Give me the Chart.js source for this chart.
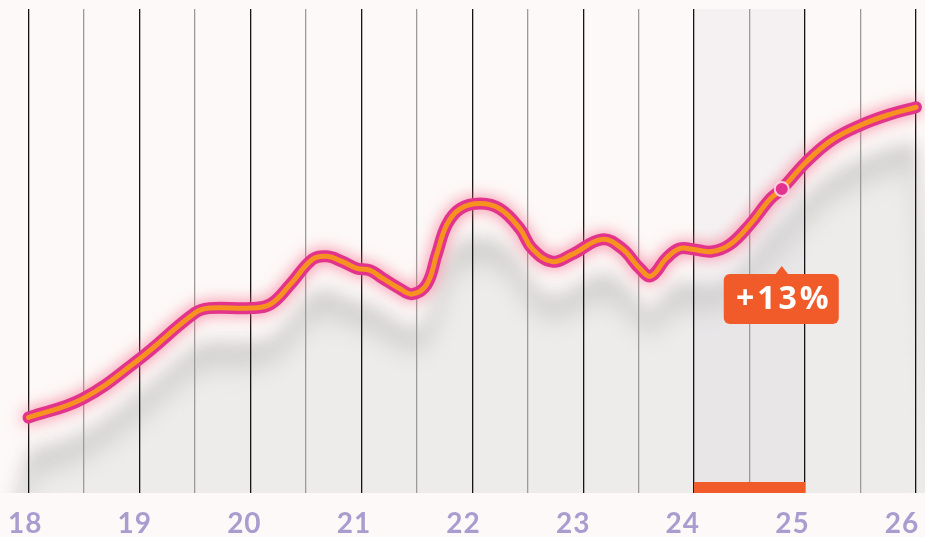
<!DOCTYPE html>
<html>
<head>
<meta charset="utf-8">
<script src="https://cdn.jsdelivr.net/npm/chart.js@4.4.1/dist/chart.umd.min.js"></script>
<style>
  html, body { margin: 0; padding: 0; background: #fdf9f8; }
  #wrap { width: 925px; height: 537px; position: relative; }
</style>
</head>
<body>
<div id="wrap"><canvas id="trend"></canvas></div>
<script>
// x positions (day) and index values
const xs = [18.00, 18.49, 19.00, 19.50, 19.63, 20.00, 20.18, 20.36, 20.56, 20.69,
            20.83, 20.96, 21.08, 21.19, 21.34, 21.46, 21.59, 21.68, 21.77, 21.89,
            22.07, 22.25, 22.43, 22.54, 22.72, 22.90, 23.17, 23.35, 23.51,
            23.61, 23.75, 23.87, 24.00, 24.16, 24.32, 24.50, 24.68, 24.79, 25.01,
            25.24, 25.50, 25.76, 26.00];
const ys = [15.6, 19.5, 27.7, 37.2, 38.2, 38.2, 39.0, 43.1, 48.3, 48.9,
            47.8, 46.4, 46.0, 44.4, 42.3, 41.1, 43.1, 49.3, 55.4, 58.7,
            59.8, 58.7, 54.6, 50.5, 47.8, 49.3, 52.4, 50.5, 46.4,
            44.8, 48.5, 50.5, 50.3, 49.9, 51.3, 55.4, 60.6, 62.8, 68.4,
            72.9, 76.0, 78.2, 79.7];
const xTickLabels = ['18', '19', '20', '21', '22', '23', '24', '25', '26'];
const highlightRange = [24, 25];
const markerX = 24.79;
const markerY = 62.8;
const badgeText = '+13%';

const linePoints = xs.map((x, i) => ({ x, y: ys[i] }));

// soft grey shadow under the curve, highlight column
const backdropPlugin = {
  id: 'backdrop',
  beforeDraw(chart){
    const ctx = chart.ctx;
    const { left, right, top, bottom } = chart.chartArea;
    const line = chart.getDatasetMeta(0).dataset;
    line.updateControlPoints(chart.chartArea, 'x');

    const shade = (dy, blur, color) => {
      ctx.save();
      ctx.beginPath();
      ctx.rect(0, top, chart.width, bottom - top);
      ctx.clip();
      ctx.filter = 'blur(' + blur + 'px)';
      ctx.translate(0, dy);
      ctx.beginPath();
      line.path(ctx);
      ctx.lineTo(right + 40, bottom + 80);
      ctx.lineTo(left - 40, bottom + 80);
      ctx.closePath();
      ctx.fillStyle = color;
      ctx.fill();
      ctx.restore();
    };
    shade(34, 9, '#d0cecd');
    shade(58, 14, '#eeeceb');

    const x = chart.scales.x;
    const x0 = x.getPixelForValue(highlightRange[0]);
    const x1 = x.getPixelForValue(highlightRange[1]);
    ctx.save();
    ctx.fillStyle = 'rgba(200,200,215,0.14)';
    ctx.fillRect(x0, top, x1 - x0, bottom - top);
    ctx.restore();
  },
  beforeDatasetDraw(chart, args){
    if(args.index === 0){
      const ctx = chart.ctx;
      ctx.save();
      ctx.shadowColor = 'rgba(245,100,130,0.8)';
      ctx.shadowBlur = 16;
    }
  },
  afterDatasetDraw(chart, args){
    if(args.index === 0) chart.ctx.restore();
  },
  afterDraw(chart){
    const ctx = chart.ctx;
    const x = chart.scales.x, y = chart.scales.y;
    const { bottom } = chart.chartArea;

    // orange range bar
    const x0 = x.getPixelForValue(highlightRange[0]);
    const x1 = x.getPixelForValue(highlightRange[1]);
    ctx.save();
    ctx.fillStyle = '#f15a29';
    ctx.fillRect(x0, bottom - 11, x1 - x0, 11);

    // tick labels
    ctx.font = 'bold 28px Lato';
    ctx.fillStyle = '#a99cce';
    ctx.textAlign = 'center';
    ctx.textBaseline = 'alphabetic';
    ctx.letterSpacing = '1px';
    xTickLabels.forEach(t => {
      const px = x.getPixelForValue(Number(t));
      ctx.fillText(t, px * 0.988 - 3, 533);
    });

    // badge
    const cx = x.getPixelForValue(markerX);
    const tipY = y.getPixelForValue(markerY) + 77;
    const w = 115, h = 50, bx = cx - 58, by = tipY + 8;
    ctx.fillStyle = '#f15a29';
    ctx.beginPath();
    ctx.moveTo(cx - 7, by + 1);
    ctx.lineTo(cx, tipY);
    ctx.lineTo(cx + 7, by + 1);
    ctx.closePath();
    ctx.fill();
    ctx.beginPath();
    ctx.roundRect(bx, by, w, h, 6);
    ctx.fill();
    ctx.fillStyle = '#ffffff';
    ctx.font = 'bold 32px "Open Sans"';
    ctx.letterSpacing = '3px';
    ctx.textBaseline = 'middle';
    ctx.fillText(badgeText, cx + 2, by + h / 2 + 1);
    ctx.restore();
  }
};

new Chart(document.getElementById('trend'), {
  type: 'line',
  data: {
    datasets: [
      {
        data: linePoints,
        order: 3,
        borderColor: '#e2348c',
        borderWidth: 12,
        borderCapStyle: 'round',
        tension: 0.4,
        pointRadius: 0,
        clip: false
      },
      {
        data: linePoints,
        order: 2,
        borderColor: '#f7911f',
        borderWidth: 5,
        borderCapStyle: 'round',
        tension: 0.4,
        pointRadius: 0,
        clip: false
      },
      {
        data: [{ x: markerX, y: markerY }],
        order: 1,
        showLine: false,
        pointRadius: 7,
        pointBackgroundColor: '#e2338f',
        pointBorderColor: 'rgba(255,215,230,0.9)',
        pointBorderWidth: 2,
        clip: false
      }
    ]
  },
  options: {
    responsive: true,
    maintainAspectRatio: false,
    animation: false,
    layout: { padding: { left: 28.5, right: 8, top: 6, bottom: 44 } },
    plugins: { legend: { display: false }, tooltip: { enabled: false } },
    scales: {
      x: {
        type: 'linear',
        min: 18,
        max: 26,
        border: { display: false },
        ticks: { stepSize: 0.5, display: false },
        grid: {
          drawTicks: false,
          lineWidth: 1.3,
          color: c => Number.isInteger(c.tick.value) ? '#151515' : '#9b9b9b'
        },
        afterFit(scale){ scale.height = 0; scale.paddingLeft = 0; scale.paddingRight = 0; }
      },
      y: { display: false, min: 0, max: 100 }
    }
  },
  plugins: [backdropPlugin]
});
</script>
</body>
</html>
